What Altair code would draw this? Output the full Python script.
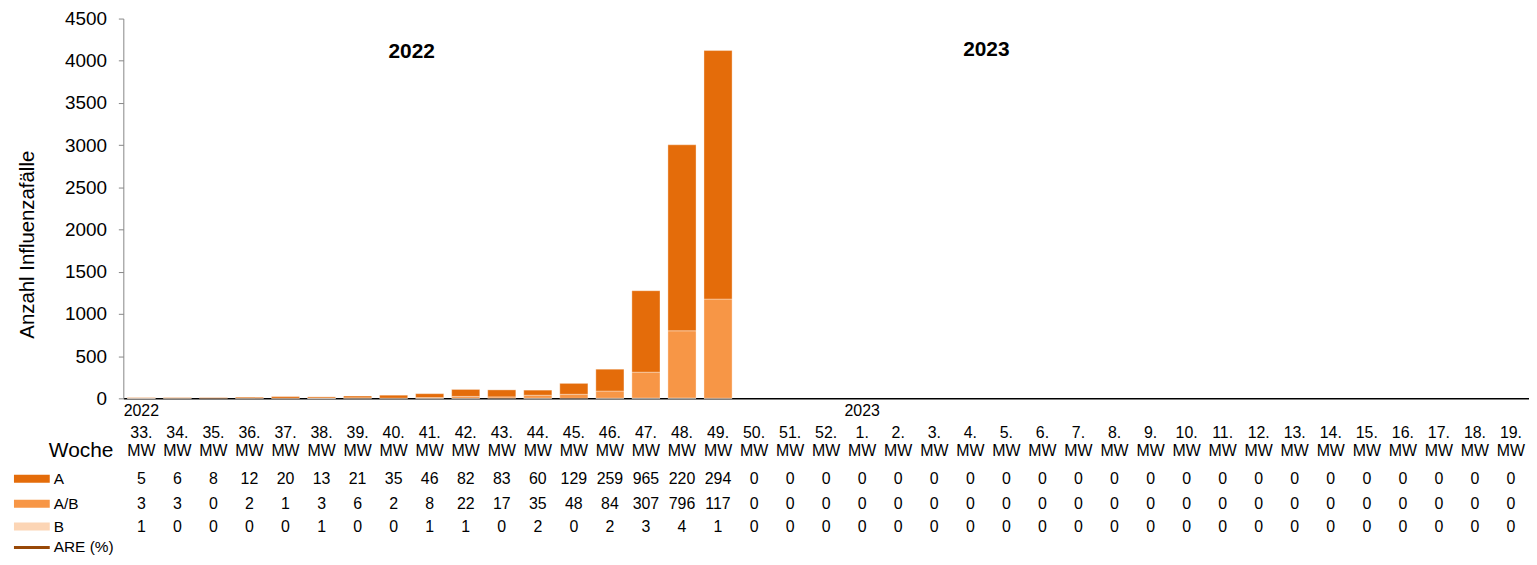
import altair as alt
import pandas as pd

# ---- data ----
week_nums = [33, 34, 35, 36, 37, 38, 39, 40, 41, 42, 43, 44, 45, 46, 47, 48, 49, 50, 51, 52,
             1, 2, 3, 4, 5, 6, 7, 8, 9, 10, 11, 12, 13, 14, 15, 16, 17, 18, 19]
weeks = [f"{w}. MW" for w in week_nums]

# bar heights
a_vals = [5, 6, 8, 12, 20, 13, 21, 35, 46, 82, 83, 60, 129, 259, 965, 2204, 2945] + [0] * 22
ab_vals = [3, 3, 0, 2, 1, 3, 6, 2, 8, 22, 17, 35, 48, 84, 307, 796, 1175] + [0] * 22
b_vals = [1, 0, 0, 0, 0, 1, 0, 0, 1, 1, 0, 2, 0, 2, 3, 4, 1] + [0] * 22

# numbers as printed in the data table
a_tab = ["5", "6", "8", "12", "20", "13", "21", "35", "46", "82", "83", "60", "129", "259",
         "965", "220", "294"] + ["0"] * 22
ab_tab = ["3", "3", "0", "2", "1", "3", "6", "2", "8", "22", "17", "35", "48", "84",
          "307", "796", "117"] + ["0"] * 22
b_tab = ["1", "0", "0", "0", "0", "1", "0", "0", "1", "1", "0", "2", "0", "2",
         "3", "4", "1"] + ["0"] * 22

series = ["A", "A/B", "B"]
colors = ["#E46C0A", "#F79646", "#FCD5B5"]
are_color = "#984807"

year_labels = ["2022", "2023"]
year_weeks = ["33. MW", "1. MW"]
head_weeks = ["41. MW", "5. MW"]
head_y = [4100, 4128]

FONT = "Liberation Sans"

# ---- tables ----
rows = []
for i, w in enumerate(weeks):
    for t, v, o in (("B", b_vals[i], 0), ("A/B", ab_vals[i], 1), ("A", a_vals[i], 2)):
        if v > 0:
            rows.append({"week": w, "type": t, "value": v, "ord": o})
bars_df = pd.DataFrame(rows)

tab_df = pd.DataFrame({
    "week": weeks,
    "num": [f"{w}." for w in week_nums],
    "mw": ["MW"] * len(weeks),
    "A": a_tab, "AB": ab_tab, "B": b_tab,
})

W, H = 1414, 382
xenc = alt.X("week:N", sort=weeks,
             scale=alt.Scale(domain=weeks, paddingInner=0.22, paddingOuter=0.11),
             axis=alt.Axis(labels=False, ticks=False, title=None,
                           domainColor="black", domainWidth=1.5))

bars = alt.Chart(bars_df).mark_bar(stroke="#FFFFFF", strokeOpacity=0.35, strokeWidth=1).encode(
    x=xenc,
    y=alt.Y("value:Q", stack="zero",
            scale=alt.Scale(domain=[0, 4500], nice=False),
            axis=alt.Axis(values=list(range(0, 4501, 500)), format="d", grid=False,
                          domainColor="#868686", tickColor="#868686", tickSize=5,
                          labelFontSize=19, labelPadding=12, labelColor="black",
                          title="Anzahl  Influenzafälle", titleFontSize=20.5,
                          titleFontWeight="normal", titleColor="black",
                          titleX=-96, titleY=227, titleAlign="center",
                          titleBaseline="middle", titleAngle=270)),
    color=alt.Color("type:N", scale=alt.Scale(domain=series, range=colors), legend=None),
    order=alt.Order("ord:Q"),
)

head_df = pd.DataFrame({"week": head_weeks, "label": year_labels, "y": head_y, "dx": [-4, -6]})
heads = alt.Chart(head_df).mark_text(fontSize=21, fontWeight="bold", color="black",
                                     baseline="middle").encode(
    x=alt.X("week:N", sort=weeks), y=alt.Y("y:Q"), text="label:N",
    xOffset=alt.XOffset("dx:Q", scale=None))

layers = [bars, heads]

def row_layer(field, ypix, size=16):
    return alt.Chart(tab_df).mark_text(fontSize=size, color="black", baseline="middle").encode(
        x=alt.X("week:N", sort=weeks), y=alt.value(ypix), text=f"{field}:N")

layers += [row_layer("num", 416.5), row_layer("mw", 435),
           row_layer("A", 463), row_layer("AB", 488), row_layer("B", 511)]

year_df = pd.DataFrame({"week": year_weeks, "label": year_labels})
layers.append(alt.Chart(year_df).mark_text(fontSize=16, color="black", baseline="middle").encode(
    x=alt.X("week:N", sort=weeks), y=alt.value(395), text="label:N"))

one = pd.DataFrame({"t": ["Woche"]})
layers.append(alt.Chart(one).mark_text(fontSize=21, color="black", align="right",
                                       baseline="middle").encode(
    x=alt.value(-10), y=alt.value(435), text="t:N"))

leg_labels = ["A", "A/B", "B", "ARE (%)"]
leg_y = [463, 488, 511, 532]
for i, lab in enumerate(leg_labels):
    d = pd.DataFrame({"t": [lab]})
    layers.append(alt.Chart(d).mark_text(fontSize=15.5, color="black", align="left",
                                         baseline="middle").encode(
        x=alt.value(-70), y=alt.value(leg_y[i]), text="t:N"))
    if i < 3:
        layers.append(alt.Chart(d).mark_rect(color=colors[i]).encode(
            x=alt.value(-110), x2=alt.value(-74),
            y=alt.value(leg_y[i] - 4), y2=alt.value(leg_y[i] + 4)))
    else:
        layers.append(alt.Chart(d).mark_rule(color=are_color, strokeWidth=3).encode(
            x=alt.value(-110), x2=alt.value(-74), y=alt.value(leg_y[i])))

chart = alt.layer(*layers).properties(
    width=W, height=H,
    padding={"left": 4, "top": 0, "right": 0, "bottom": 0},
).configure(font=FONT).configure_view(stroke=None)

chart.save("out.html", embed_options={"renderer": "svg", "actions": False})
